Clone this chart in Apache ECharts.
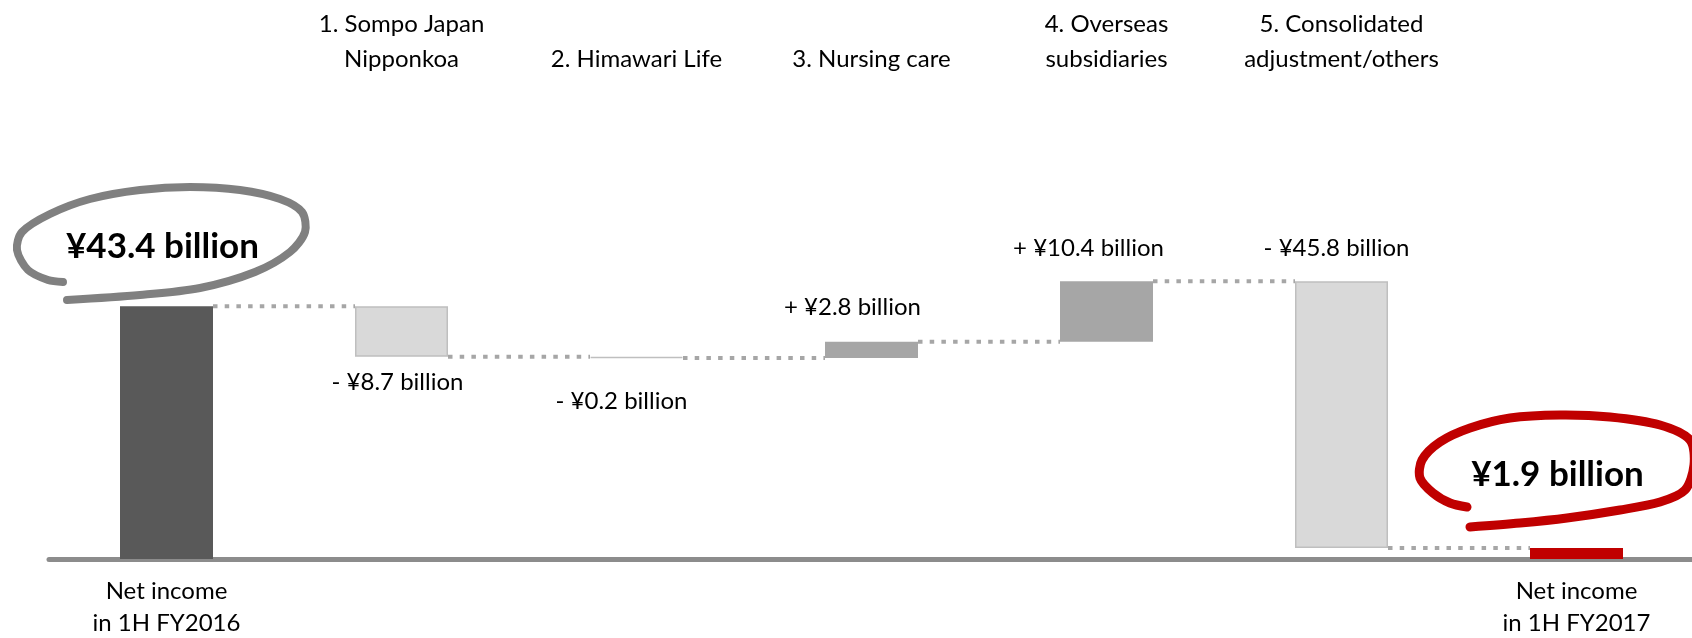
<!DOCTYPE html>
<html><head><meta charset="utf-8">
<script src="https://cdn.jsdelivr.net/npm/echarts@6/dist/echarts.min.js"></script>
<style>html,body{margin:0;padding:0;background:#fff}#c{width:1692px;height:638px}</style>
</head><body><div id="c"></div>
<script>
// ---- data ----
var categories = ['Net income in 1H FY2016','1. Sompo Japan Nipponkoa','2. Himawari Life','3. Nursing care','4. Overseas subsidiaries','5. Consolidated adjustment/others','Net income in 1H FY2017'];
var bottomLabels = ['Net income\nin 1H FY2016','','','','','','Net income\nin 1H FY2017'];
var topLabels = ['','1. Sompo Japan\nNipponkoa','2. Himawari Life','3. Nursing care','4. Overseas\nsubsidiaries','5. Consolidated\nadjustment/others',''];
var startValue = 43.4;
var deltas = [-8.7, -0.2, 2.8, 10.4, -45.8];
var endValue = 1.9;

// ---- derived waterfall ----
var base = [0], height = [startValue], levels = [startValue];
var cur = startValue;
deltas.forEach(function(d){
  var nxt = Math.round((cur + d)*10)/10;
  base.push(Math.min(cur, nxt));
  height.push(Math.abs(d));
  cur = nxt; levels.push(cur);
});
base.push(0); height.push(endValue);
var totals = [true,false,false,false,false,false,true];
var signed = [startValue].concat(deltas).concat([endValue]);

// ---- styles ----
var FONT = 'Lato';
var colors = ['#595959','#d9d9d9','#d9d9d9','#a6a6a6','#a6a6a6','#d9d9d9','#c00000'];
var borders = [null,'#bfbfbf','#bfbfbf',null,null,'#bfbfbf',null];
var labelCfg = [
  {position:'top', offset:[-4,-41], big:true},
  {position:'bottom', offset:[-4,12]},
  {position:'bottom', offset:[-15,30]},
  {position:'top', offset:[-19,-21]},
  {position:'top', offset:[-18,-20]},
  {position:'top', offset:[-5,-20]},
  {position:'top', offset:[-19,-55], big:true}
];
var BAR_W = 93;

function fmt(v, isTotal){
  var s = '¥' + Math.abs(v).toFixed(1) + ' billion';
  if (isTotal) return s;
  return (v < 0 ? '- ' : '+ ') + s;
}

var deltaData = height.map(function(h, i){
  var lc = labelCfg[i];
  return {
    value: h,
    itemStyle: {color: colors[i], borderColor: borders[i] || colors[i], borderWidth: borders[i] ? 1.5 : 0},
    label: {
      show: true, position: lc.position, distance: 0, offset: lc.offset,
      formatter: fmt(signed[i], totals[i]),
      fontFamily: FONT, color: '#000',
      fontSize: lc.big ? 35 : 24, fontWeight: lc.big ? 'bold' : 'normal',
      lineHeight: lc.big ? 36 : 26
    }
  };
});

var connectorData = levels.map(function(l, i){ return [i, l]; });

var chart = echarts.init(document.getElementById('c'));
chart.setOption({
  animation: false,
  grid: {left: 49, right: -2, top: 93, bottom: 79, containLabel: false, outerBoundsMode: 'none'},
  xAxis: [{
    type: 'category', data: categories, position: 'bottom',
    axisLine: {show: true, lineStyle: {color: '#8c8c8c', width: 5}},
    axisTick: {show: false},
    axisLabel: {interval: 0, margin: 17, fontFamily: FONT, fontSize: 24, color: '#000', lineHeight: 31.5,
      formatter: function(v, i){ return bottomLabels[i]; }}
  },{
    type: 'category', data: categories, position: 'top',
    axisLine: {show: false}, axisTick: {show: false},
    axisLabel: {interval: 0, margin: 16, fontFamily: FONT, fontSize: 24, color: '#000', lineHeight: 35,
      formatter: function(v, i){ return topLabels[i]; }}
  }],
  yAxis: {type: 'value', min: 0, max: 80, show: false, splitLine: {show: false}},
  series: [
    {type: 'custom', xAxisIndex: 0, data: connectorData, z: 1,
      renderItem: function(params, api){
        var i = api.value(0), lv = api.value(1);
        var p = api.coord([i, lv]), q = api.coord([i+1, lv]);
        return {type: 'line', shape: {x1: p[0] + BAR_W/2, y1: p[1], x2: q[0] - BAR_W/2, y2: q[1]},
          style: {stroke: '#a6a6a6', lineWidth: 4, lineDash: [4.5, 7.2]}};
      }},
    {type: 'bar', stack: 'w', data: base, barWidth: BAR_W, itemStyle: {color: 'transparent'}, silent: true, z: 2},
    {type: 'bar', stack: 'w', data: deltaData, barWidth: BAR_W, z: 3}
  ],
  graphic: [
    {type: 'polyline', z: 10, shape: {smooth: 0.3, points: [[67,300],[140,295],[200,288],[255,272],[290,252],[305,232],[302,212],[280,199],[240,190],[190,187],[140,190],[90,199],[50,214],[22,232],[17,250],[28,270],[48,280],[63,282]]},
      style: {stroke: '#808080', lineWidth: 8, fill: null, lineCap: 'round', lineJoin: 'round'}},
    {type: 'polyline', z: 10, shape: {smooth: 0.3, points: [[1470,527],[1520,523],[1567,518],[1620,510],[1660,502],[1685,490],[1694,465],[1690,440],[1660,425],[1610,417],[1560,415],[1510,418],[1470,428],[1440,442],[1422,460],[1420,478],[1433,493],[1450,503],[1467,507]]},
      style: {stroke: '#c00000', lineWidth: 9, fill: null, lineCap: 'round', lineJoin: 'round'}}
  ]
});
</script></body></html>
